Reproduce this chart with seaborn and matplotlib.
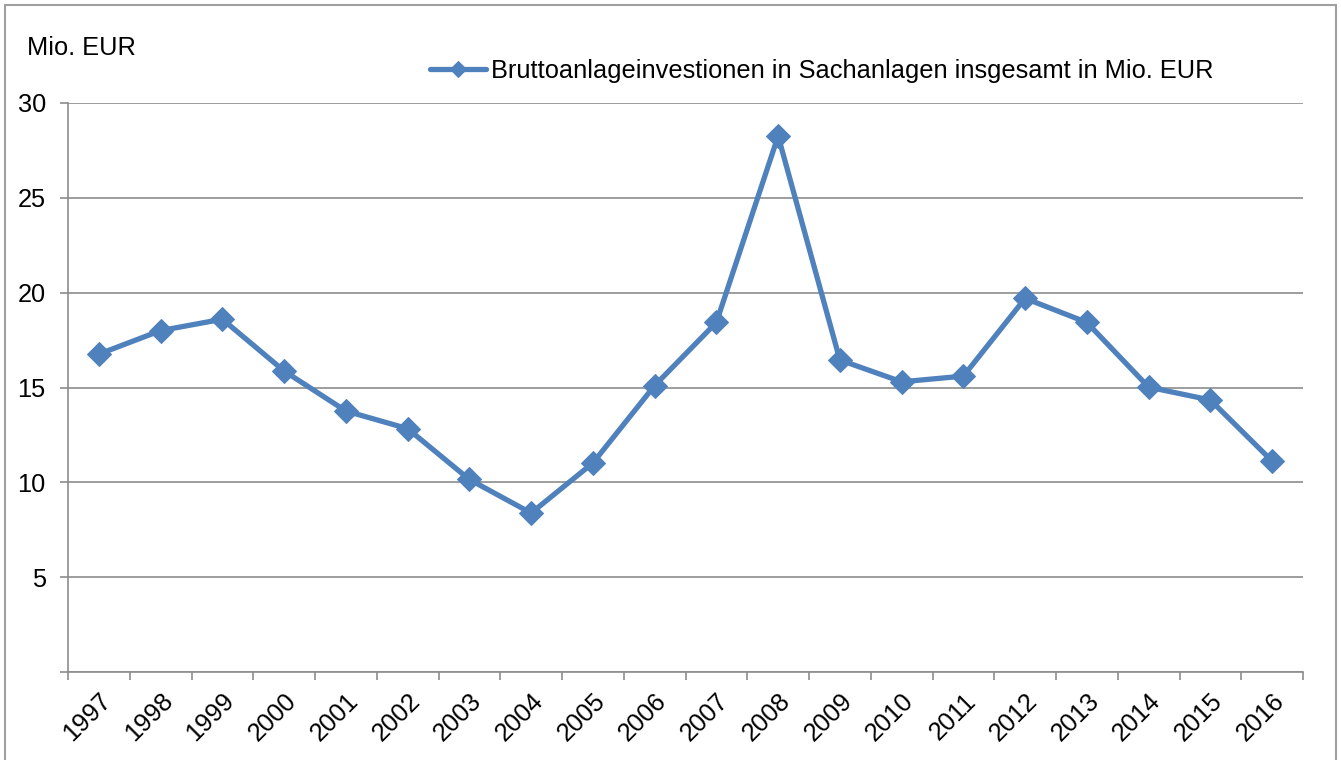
import numpy as np
import pandas as pd
import seaborn as sns
from matplotlib import pyplot as plt
from matplotlib.patches import Rectangle

# data
years = [str(y) for y in range(1997, 2017)]
values = [16.76, 18.0, 18.6, 15.87, 13.76, 12.83, 10.15, 8.38, 11.02, 15.1,
          18.43, 28.26, 16.45, 15.3, 15.6, 19.7, 18.43, 15.02, 14.34, 11.12]
series_name = "Bruttoanlageinvestionen in Sachanlagen insgesamt in Mio. EUR"
y_ticks = [5, 10, 15, 20, 25, 30]

sns.set_theme(style="white")
plt.rcParams["font.family"] = ["Liberation Sans", "DejaVu Sans"]
plt.rcParams["text.color"] = "black"
plt.rcParams["xtick.labelcolor"] = "black"
plt.rcParams["ytick.labelcolor"] = "black"

line_color = "#4F81BD"
grid_color = "#8C8C8C"
fs = 18.3

df = pd.DataFrame({"pos": np.arange(len(years)), "value": values})

fig = plt.figure(figsize=(13.41, 7.6), dpi=100)
ax = fig.add_axes([68 / 1341, 1 - 672 / 760, (1303 - 68) / 1341, 569 / 760])

sns.lineplot(
    data=df, x="pos", y="value", ax=ax,
    color=line_color, linewidth=3.8, marker="D", markersize=12,
    markeredgecolor=line_color, label=series_name,
)

ax.set_xlim(-0.5, len(years) - 0.5)
ax.set_ylim(0, 30)

# gridlines (horizontal only)
ax.set_yticks([0] + y_ticks)
ax.set_yticklabels([""] + [str(t) for t in y_ticks], fontsize=fs)
ax.yaxis.grid(True, color=grid_color, linewidth=1.2)
ax.xaxis.grid(False)
ax.set_axisbelow(True)

# category ticks at boundaries, labels centered
ax.set_xticks(np.arange(len(years) + 1) - 0.5)
ax.set_xticklabels([])
ax.set_xticks(np.arange(len(years)), minor=True)
ax.set_xticklabels(years, minor=True, rotation=45, ha="right", va="top",
                   rotation_mode="anchor", fontsize=fs)
ax.tick_params(axis="x", which="major", direction="out", length=6,
               width=1.2, color=grid_color, bottom=True)
ax.tick_params(axis="x", which="minor", length=0, pad=12)
ax.tick_params(axis="y", direction="out", length=6, width=1.2,
               color=grid_color, left=True, pad=10)

for side in ["top", "right"]:
    ax.spines[side].set_visible(False)
for side in ["left", "bottom"]:
    ax.spines[side].set_color(grid_color)
    ax.spines[side].set_linewidth(1.2)

ax.set_xlabel("")
ax.set_ylabel("")

fig.text(27 / 1341, 1 - 48 / 760, "Mio. EUR", fontsize=fs, ha="left", va="center")

leg = ax.legend(loc="center left", bbox_to_anchor=(430 / 1341, 1 - 71 / 760),
                bbox_transform=fig.transFigure, frameon=False, fontsize=fs,
                handlelength=2.2, handletextpad=0.2, borderaxespad=0, borderpad=0)
leg.legend_handles[0].set_markersize(8)

# outer chart border
fig.patches.append(Rectangle((5 / 1341, -0.02), 1331 / 1341, 1 - 5 / 760 + 0.02,
                             transform=fig.transFigure, fill=False,
                             edgecolor="#A0A0A0", linewidth=1.5))

fig.savefig("out.png", dpi=100)
plt.close()
